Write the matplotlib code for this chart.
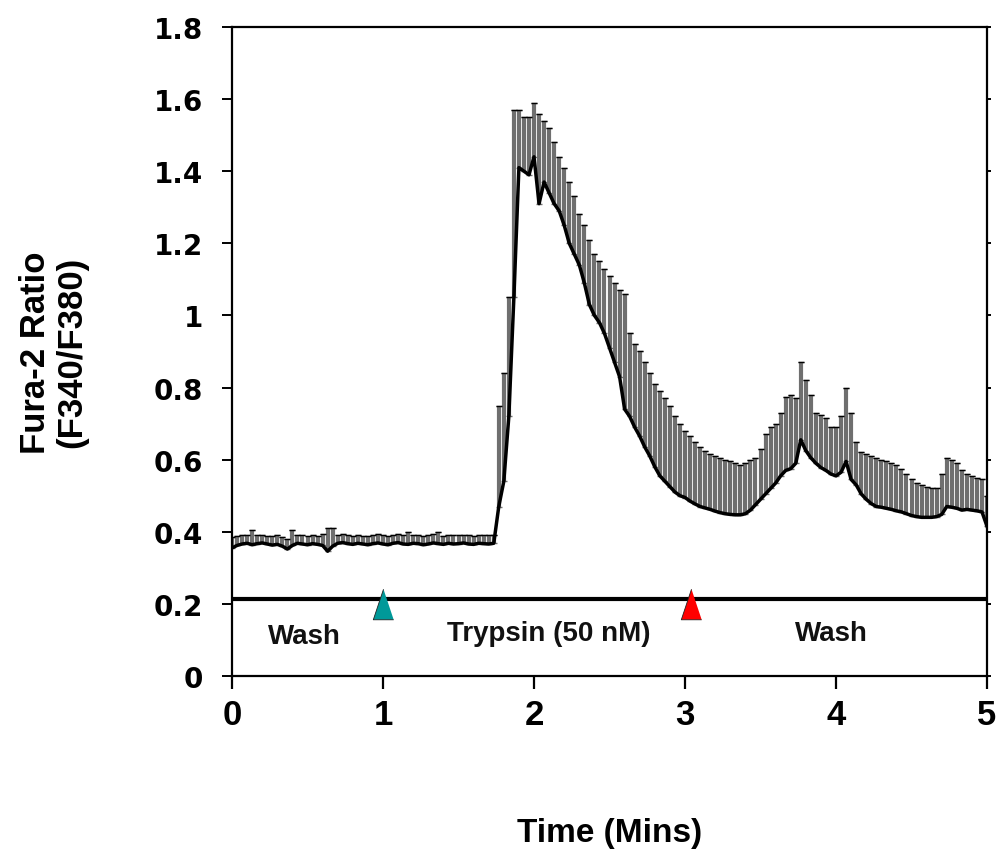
import numpy as np
import matplotlib
matplotlib.use("Agg")
import matplotlib.pyplot as plt

# Fura-2 ratio trace, one sample every 2 s (0 - 5 min)
mean_ratio = [
    0.355, 0.362, 0.366, 0.368, 0.364, 0.367, 0.369, 0.366, 0.363, 0.365,
    0.360, 0.352, 0.362, 0.368, 0.366, 0.364, 0.367, 0.365, 0.362, 0.346,
    0.360, 0.368, 0.370, 0.367, 0.365, 0.368, 0.366, 0.364, 0.367, 0.369,
    0.366, 0.364, 0.368, 0.370, 0.366, 0.365, 0.368, 0.367, 0.364, 0.366,
    0.369, 0.367, 0.365, 0.368, 0.366, 0.367, 0.369, 0.366, 0.365, 0.368,
    0.367, 0.366, 0.368, 0.47, 0.54, 0.72, 1.05, 1.41, 1.40, 1.39,
    1.44, 1.31, 1.37, 1.34, 1.31, 1.29, 1.25, 1.20, 1.17, 1.14,
    1.09, 1.03, 1.00, 0.98, 0.95, 0.91, 0.87, 0.83, 0.74, 0.72,
    0.69, 0.665, 0.635, 0.61, 0.58, 0.555, 0.54, 0.525, 0.51, 0.50,
    0.495, 0.485, 0.477, 0.47, 0.466, 0.462, 0.457, 0.453, 0.45, 0.448,
    0.447, 0.447, 0.45, 0.46, 0.475, 0.49, 0.505, 0.52, 0.535, 0.555,
    0.57, 0.575, 0.59, 0.655, 0.625, 0.605, 0.59, 0.578, 0.57, 0.56,
    0.555, 0.565, 0.595, 0.545, 0.53, 0.505, 0.49, 0.478, 0.47, 0.468,
    0.465, 0.462, 0.458, 0.455, 0.45, 0.445, 0.442, 0.44, 0.44, 0.44,
    0.442, 0.448, 0.47, 0.468, 0.465, 0.46, 0.462, 0.46, 0.458, 0.455,
    0.415,
]

# mean + SEM (top of each error bar)
upper_ratio = [
    0.385, 0.388, 0.39, 0.392, 0.405, 0.39, 0.392, 0.388, 0.387, 0.39,
    0.386, 0.38, 0.405, 0.392, 0.39, 0.388, 0.391, 0.389, 0.395, 0.41,
    0.41, 0.392, 0.394, 0.39, 0.388, 0.391, 0.389, 0.388, 0.39, 0.393,
    0.39, 0.388, 0.392, 0.394, 0.39, 0.40, 0.392, 0.39, 0.388, 0.39,
    0.393, 0.40, 0.389, 0.391, 0.39, 0.39, 0.392, 0.39, 0.389, 0.392,
    0.39, 0.39, 0.392, 0.75, 0.84, 1.05, 1.57, 1.57, 1.55, 1.55,
    1.59, 1.56, 1.54, 1.52, 1.48, 1.44, 1.41, 1.37, 1.33, 1.28,
    1.25, 1.21, 1.17, 1.15, 1.13, 1.11, 1.09, 1.07, 1.06, 0.95,
    0.92, 0.90, 0.87, 0.84, 0.81, 0.79, 0.77, 0.75, 0.72, 0.70,
    0.68, 0.665, 0.65, 0.635, 0.625, 0.615, 0.61, 0.605, 0.60, 0.595,
    0.59, 0.585, 0.59, 0.60, 0.605, 0.63, 0.67, 0.69, 0.70, 0.73,
    0.775, 0.78, 0.77, 0.87, 0.82, 0.78, 0.73, 0.725, 0.715, 0.69,
    0.69, 0.72, 0.80, 0.73, 0.65, 0.62, 0.615, 0.61, 0.605, 0.60,
    0.595, 0.59, 0.585, 0.575, 0.56, 0.545, 0.535, 0.53, 0.525, 0.52,
    0.522, 0.56, 0.605, 0.60, 0.59, 0.57, 0.56, 0.555, 0.55, 0.545,
    0.50,
]

bar_level = 0.214
markers_t = [1.0, 3.04]
marker_colors = ["#009999", "#ff0000"]
phase_labels = ["Wash", "Trypsin (50 nM)", "Wash"]
phase_x = [0.48, 2.10, 3.97]
phase_y = [0.11, 0.12, 0.12]

mean = np.array(mean_ratio)
upper = np.array(upper_ratio)
t = np.linspace(0, 5, len(mean))
err = upper - mean

fig = plt.figure(figsize=(9.97, 8.54), dpi=100)
ax = fig.add_axes([0.2327, 0.2073, 0.990 - 0.2327, 0.9672 - 0.2073])

ax.errorbar(t, mean, yerr=[np.zeros_like(err), err], fmt="none",
            ecolor="#6f6f6f", elinewidth=3.0, capsize=2.5, capthick=1.0,
            zorder=2)
# black caps drawn on top
ax.plot(t, upper, linestyle="none", marker="_", markersize=5, color="black",
        markeredgewidth=1.0, zorder=3)
ax.plot(t, mean, color="black", linewidth=2.5, zorder=4)

ax.axhline(bar_level, color="black", linewidth=3, zorder=3)
tri = [(0, 1), (-0.667, -1), (0.667, -1)]
for tm, c in zip(markers_t, marker_colors):
    ax.plot([tm], [0.2], marker=tri, markersize=22, color=c,
            markeredgecolor="#222222", markeredgewidth=0.6, linestyle="none",
            zorder=5)

for lab, x, y in zip(phase_labels, phase_x, phase_y):
    ax.text(x, y, lab, ha="center", va="center", fontsize=20,
            fontweight="bold", family="Liberation Sans", color="#111111")

ax.set_xlim(0, 5)
ax.set_ylim(0, 1.8)
ax.set_xticks([0, 1, 2, 3, 4, 5])
ax.set_xticklabels(["0", "1", "2", "3", "4", "5"])
ax.set_yticks([0, 0.2, 0.4, 0.6, 0.8, 1.0, 1.2, 1.4, 1.6, 1.8])
ax.set_yticklabels(["0", "0.2", "0.4", "0.6", "0.8", "1", "1.2", "1.4", "1.6", "1.8"])

for s in ax.spines.values():
    s.set_linewidth(1.6)

ax.tick_params(axis="x", direction="out", length=9, width=1.6, pad=7)
ax.tick_params(axis="y", direction="out", length=7, width=1.4, pad=14,
               right=True)
for lab in ax.get_xticklabels():
    lab.set_fontsize(25)
    lab.set_fontweight("bold")
    lab.set_family("Liberation Sans")
for lab in ax.get_yticklabels():
    lab.set_fontsize(20)
    lab.set_fontweight("bold")
    lab.set_family("DejaVu Sans")
for tk in ax.yaxis.get_major_ticks():
    tk.tick2line.set_markersize(3)

ax.set_xlabel("Time (Mins)", fontsize=24, fontweight="bold",
              family="Liberation Sans")
ax.xaxis.set_label_coords(0.5, -0.218)
ax.set_ylabel("Fura-2 Ratio\n(F340/F380)", fontsize=25, fontweight="bold",
              family="Liberation Sans", linespacing=1.15)
ax.yaxis.set_label_coords(-0.19, 0.5)

fig.savefig("out.png", dpi=100)
